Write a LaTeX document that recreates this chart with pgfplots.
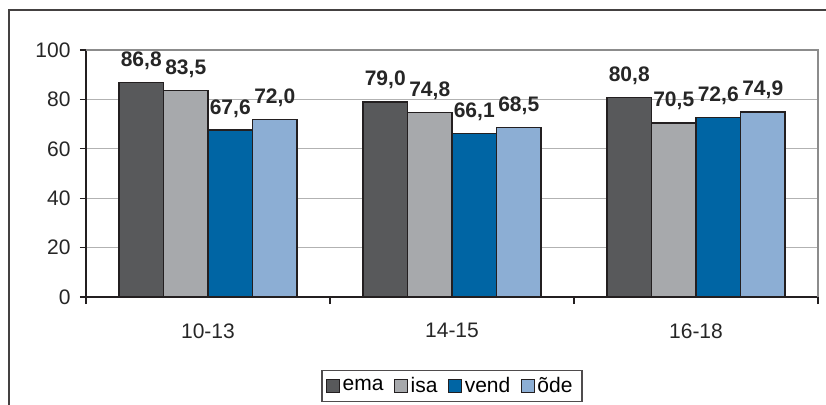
\documentclass[border=0pt]{standalone}
\usepackage{pgfplots}
\pgfplotsset{compat=1.18}
\usepackage{fontspec}
\setmainfont{Liberation Sans}

\definecolor{ema}{HTML}{58595B}
\definecolor{isa}{HTML}{A7A9AC}
\definecolor{vend}{HTML}{0065A4}
\definecolor{ode}{HTML}{8CAED4}
\definecolor{edge}{HTML}{231F20}
\newcommand\chartfont{\fontsize{21bp}{24bp}\selectfont}
\newcommand\gap{\rule{8bp}{0pt}}

\begin{document}
\begin{tikzpicture}
\useasboundingbox (0,0) rectangle (826bp,405bp);
% outer chart frame
\draw[line width=1.5bp, color=edge!85] (9bp,-5bp) -- (9bp,395bp) -- (840bp,395bp);
\begin{axis}[
    at={(86bp,108bp)}, anchor=south west,
    scale only axis,
    width=732bp, height=247bp,
    ybar=0pt, bar width=44.5bp,
    xmin=-0.5, xmax=2.5,
    ymin=0, ymax=100,
    ytick={0,20,40,60,80,100},
    xtick={0,1,2},
    xticklabels={10-13, 14-15, 16-18},
    minor xtick={-0.5,0.5,1.5,2.5},
    major x tick style={draw=none},
    tick align=outside, tick pos=left,
    major tick length=6bp, minor tick length=7bp,
    every tick/.style={line width=1.2bp, color=edge},
    ymajorgrids, grid style={line width=1bp, color=black!30},
    axis line style={line width=1.3bp, color=edge},
    axis x line*=bottom, axis y line*=left,
    /pgf/number format/assume math mode=true,
    tick label style={font=\chartfont, color=black!85},
    xticklabel style={yshift=-17bp},
    yticklabel style={xshift=-6bp},
    nodes near coords={\pgfmathprintnumber[fixed,fixed zerofill,precision=1,use comma,assume math mode=true]{\pgfplotspointmeta}},
    every node near coord/.append style={font=\bfseries\chartfont, color=black!85, anchor=base, yshift=16bp, inner sep=0pt},
    legend columns=-1,
    legend style={at={(0.5,-0.36)}, anchor=center, draw=edge!80, line width=1.2bp,
        font=\chartfont, inner sep=4bp,
        nodes={inner xsep=2.5bp, inner ysep=3bp}},
    legend image code/.code={\draw[#1, line width=1.2bp, draw=edge] (0bp,-6.5bp) rectangle (13bp,6.5bp);},
    clip=false,
]
\addplot[fill=ema, draw=edge, line width=1.3bp] coordinates {(0,86.8) (1,79.0) (2,80.8)};
\addplot[fill=isa, draw=edge, line width=1.3bp] coordinates {(0,83.5) (1,74.8) (2,70.5)};
\addplot[fill=vend, draw=edge, line width=1.3bp] coordinates {(0,67.6) (1,66.1) (2,72.6)};
\addplot[fill=ode, draw=edge, line width=1.3bp] coordinates {(0,72.0) (1,68.5) (2,74.9)};
\legend{ema\gap, isa\gap, vend\gap, õde\rule{3bp}{0pt}}
\draw[line width=1.3bp, color=black!45] (rel axis cs:0,1) -- (rel axis cs:1,1) -- (rel axis cs:1,0);
\end{axis}
\end{tikzpicture}
\end{document}
